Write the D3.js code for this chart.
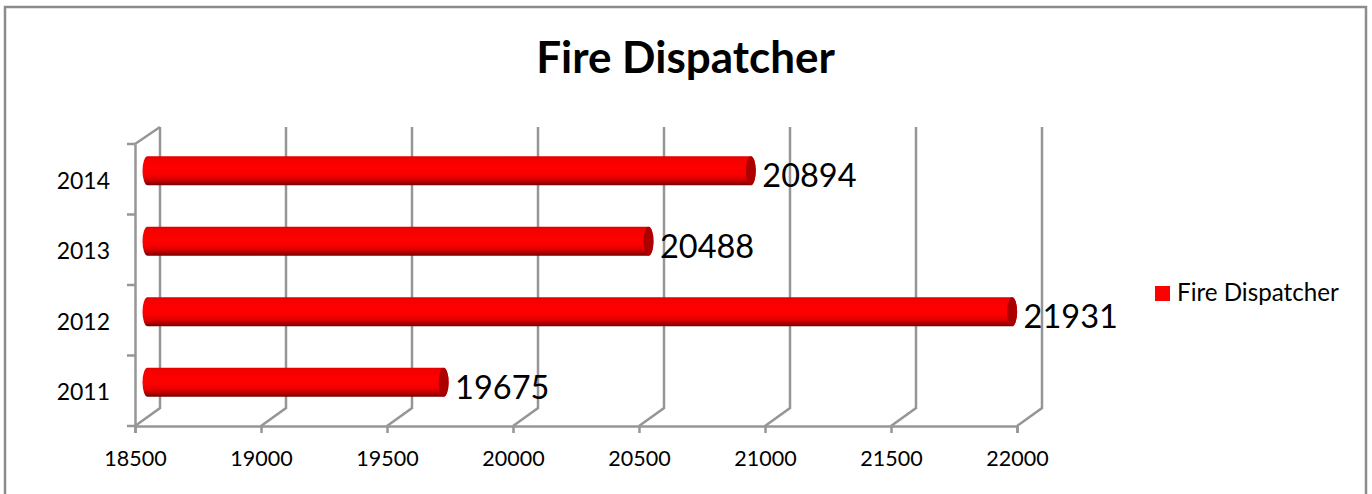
<!DOCTYPE html>
<html>
<head>
<meta charset="utf-8">
<script src="https://cdn.jsdelivr.net/npm/d3@7"></script>
<style>
  html, body { margin: 0; padding: 0; background: #fff; }
  svg { display: block; }
  text { font-family: Lato, "Open Sans", sans-serif; fill: #000; }
</style>
</head>
<body>
<div id="visualization"></div>
<script>
const years = ['2011', '2012', '2013', '2014'];
const values = [19675, 21931, 20488, 20894];
const xTicks = [18500, 19000, 19500, 20000, 20500, 21000, 21500, 22000];
const seriesName = 'Fire Dispatcher';

const svg = d3.select('#visualization')
              .append('svg')
              .attr('width', 1372)
              .attr('height', 494);

const gridColor = '#969696';
const gridWidth = 2.5;
// depth of the fake 3D box
const depthX = 25;
const depthY = -18;

const x = d3.scaleLinear().domain([18500, 22000]).range([135, 1017]);
const y = d3.scaleBand().domain(years).range([426, 144]);

const defs = svg.append('defs');
const grad = defs.append('linearGradient')
                 .attr('id', 'tube')
                 .attr('x1', 0).attr('y1', 0).attr('x2', 0).attr('y2', 1);
[[0, '#e00000'], [0.1, '#f40000'], [0.35, '#ff0000'], [0.62, '#fa0000'], [0.8, '#d80000'], [0.92, '#a00000'], [1, '#6e0000']]
  .forEach(s => grad.append('stop').attr('offset', s[0]).attr('stop-color', s[1]));

// chart frame, no bottom edge in the picture
svg.append('path')
   .attr('d', 'M5,494V7H1366V494')
   .attr('fill', 'none')
   .attr('stroke', '#8c8c8c')
   .attr('stroke-width', 2.5);

// back wall and floor lines
xTicks.forEach(t => {
  svg.append('path')
     .attr('d', `M${x(t)},426L${x(t) + depthX},${426 + depthY}V127`)
     .attr('fill', 'none')
     .attr('stroke', gridColor)
     .attr('stroke-width', gridWidth);
});

// top of the side wall
svg.append('line')
   .attr('x1', x(18500)).attr('y1', 144)
   .attr('x2', x(18500) + depthX).attr('y2', 127)
   .attr('stroke', gridColor)
   .attr('stroke-width', gridWidth);

const xAxis = svg.append('g')
                 .attr('transform', 'translate(0,426)')
                 .call(d3.axisBottom(x).tickValues(xTicks).tickFormat(d3.format('d')).tickSize(7).tickPadding(18));
xAxis.selectAll('line, path').attr('stroke', gridColor).attr('stroke-width', gridWidth);
xAxis.selectAll('text').attr('font-size', '21.5px').attr('fill', '#000');

const yAxis = svg.append('g')
                 .attr('transform', 'translate(135,0)')
                 .call(d3.axisLeft(y).tickSize(0).tickPadding(25));
yAxis.selectAll('path').attr('stroke', gridColor).attr('stroke-width', gridWidth);
yAxis.selectAll('text').attr('font-size', '23px').attr('fill', '#000').attr('dy', '0.42em');

// tick marks between the categories
yAxis.selectAll('.sep')
     .data(y.domain().map(d => y(d)).concat([426]))
     .enter()
     .append('line')
     .attr('x1', -8).attr('x2', 0)
     .attr('y1', d => d).attr('y2', d => d)
     .attr('stroke', gridColor)
     .attr('stroke-width', gridWidth);

// bars, each is a tube with a dark end cap
const barH = 29;
const capR = 5;
const bars = svg.selectAll('.bar')
                .data(years.map((d, i) => ({year: d, value: values[i]})))
                .enter()
                .append('g')
                .attr('class', 'bar')
                .attr('transform', d => `translate(${depthX / 2},${y(d.year) + y.bandwidth() / 2 + depthY / 2 + 0.5})`);

bars.append('path')
    .attr('d', d => {
      const x0 = x(18500);
      const x1 = x(d.value);
      return `M${x0},${-barH / 2}A${capR},${barH / 2} 0 0 0 ${x0},${barH / 2}H${x1}A${capR},${barH / 2} 0 0 0 ${x1},${-barH / 2}Z`;
    })
    .attr('fill', 'url(#tube)');

bars.append('ellipse')
    .attr('cx', d => x(d.value))
    .attr('cy', 0)
    .attr('rx', capR)
    .attr('ry', barH / 2)
    .attr('fill', '#ac0000');

bars.append('text')
    .attr('x', d => x(d.value) + capR + 6.5)
    .attr('y', 16.5)
    .attr('font-size', '32.5px')
    .text(d => d.value);

svg.append('text')
   .attr('x', 685.5)
   .attr('y', 73)
   .attr('text-anchor', 'middle')
   .attr('font-size', '44px')
   .attr('font-weight', 'bold')
   .text(seriesName);

// legend
svg.append('rect')
   .attr('x', 1155).attr('y', 286)
   .attr('width', 15).attr('height', 15)
   .attr('fill', '#ff0000');

svg.append('text')
   .attr('x', 1177)
   .attr('y', 301)
   .attr('font-size', '24.2px')
   .text(seriesName);
</script>
</body>
</html>
